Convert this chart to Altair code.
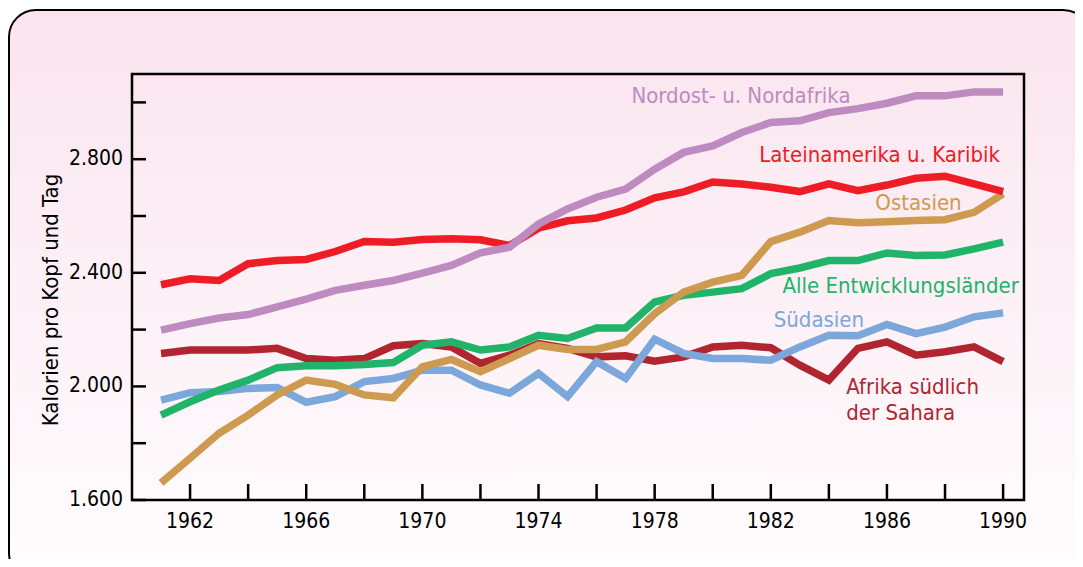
import altair as alt
import pandas as pd

years = list(range(1961, 1991))

nordost = [2198, 2221, 2241, 2253, 2280, 2307, 2338, 2356, 2373, 2399, 2426, 2470, 2490, 2572, 2625,
           2666, 2695, 2765, 2824, 2847, 2894, 2929, 2935, 2964, 2978, 2997, 3023, 3023, 3037, 3037]
latein = [2358, 2379, 2373, 2432, 2443, 2447, 2475, 2510, 2508, 2517, 2520, 2516, 2496, 2557, 2583,
          2593, 2621, 2664, 2685, 2720, 2713, 2701, 2686, 2713, 2689, 2709, 2733, 2740, 2713, 2686]
ostasien = [1660, 1747, 1835, 1899, 1970, 2022, 2007, 1970, 1960, 2069, 2095, 2052, 2098, 2145, 2130,
            2130, 2157, 2256, 2332, 2367, 2391, 2510, 2543, 2584, 2576, 2580, 2584, 2587, 2613, 2678]
alle = [1899, 1946, 1987, 2022, 2066, 2073, 2073, 2077, 2084, 2145, 2157, 2128, 2139, 2180, 2169,
        2206, 2206, 2297, 2321, 2332, 2344, 2397, 2417, 2443, 2443, 2470, 2461, 2463, 2484, 2508]
suedasien = [1952, 1978, 1982, 1993, 1996, 1944, 1964, 2017, 2028, 2057, 2057, 2005, 1976, 2046, 1964,
             2087, 2028, 2166, 2116, 2098, 2098, 2092, 2139, 2180, 2178, 2218, 2186, 2209, 2245, 2259]
afrika = [2116, 2128, 2128, 2128, 2134, 2098, 2092, 2098, 2143, 2151, 2139, 2081, 2110, 2151, 2134,
          2104, 2108, 2089, 2104, 2139, 2145, 2136, 2075, 2022, 2134, 2157, 2110, 2122, 2139, 2087]

# drawing order bottom -> top
series_names = ["afrika", "suedasien", "alle", "ostasien", "latein", "nordost"]
series_values = [afrika, suedasien, alle, ostasien, latein, nordost]
series_colors = ["#B12530", "#7BA7DA", "#20B46A", "#CD9A4F", "#EE1C25", "#BD8BBF"]

label_texts = ["Nordost- u. Nordafrika", "Lateinamerika u. Karibik", "Ostasien",
               "Alle Entwicklungsländer", "Südasien", "Afrika südlich", "der Sahara"]
label_years = [1977.2, 1981.6, 1985.6, 1982.4, 1982.1, 1984.6, 1984.6]
label_values = [3022, 2814, 2645, 2353, 2234, 1998, 1906]
label_colors = ["#BD8BBF", "#EE1C25", "#CD9A4F", "#20B46A", "#7BA7DA", "#B12530", "#B12530"]

x_tick_years = list(range(1962, 1991, 2))
y_tick_values = list(range(1600, 3001, 200))
x_label_years = [1962, 1966, 1970, 1974, 1978, 1982, 1986, 1990]
x_label_texts = ["1962", "1966", "1970", "1974", "1978", "1982", "1986", "1990"]
y_label_values = [1600, 2000, 2400, 2800]
y_label_texts = ["1.600", "2.000", "2.400", "2.800"]
y_title = "Kalorien pro Kopf und Tag"

W, H = 892, 426
FONT = "DejaVu Sans Condensed, Liberation Sans, sans-serif"

xscale = alt.Scale(domain=[1960, 1990.72], nice=False, zero=False)
yscale = alt.Scale(domain=[1600, 3100], nice=False, zero=False)


def X(field="year"):
    return alt.X(f"{field}:Q", scale=xscale, axis=None)


def Y(field="value"):
    return alt.Y(f"{field}:Q", scale=yscale, axis=None)


one = pd.DataFrame({"k": [0]})
background = alt.Chart(one).mark_rect(
    fill=alt.LinearGradient(
        gradient="linear", x1=0, y1=0, x2=0, y2=1,
        stops=[alt.GradientStop(offset=0, color="#FAE4EE"),
               alt.GradientStop(offset=1, color="#FFFDFE")]),
    stroke="black", strokeWidth=2, cornerRadius=27,
).encode(x=alt.value(-123), x2=alt.value(958), y=alt.value(-64), y2=alt.value(506))

layers = [background]
for name, vals, col in zip(series_names, series_values, series_colors):
    df = pd.DataFrame({"year": years, "value": vals})
    layers.append(alt.Chart(df).mark_line(color=col, strokeWidth=7.5, strokeCap="butt",
                                          strokeJoin="miter").encode(x=X(), y=Y()))

lab_df = pd.DataFrame({"t": label_texts, "year": label_years, "value": label_values,
                       "c": label_colors})
labels = alt.Chart(lab_df).mark_text(align="left", baseline="middle", font=FONT,
                                     fontSize=22).encode(
    x=X(), y=Y(), text="t:N", color=alt.Color("c:N", scale=None))
layers.append(labels)

# inward ticks
xt = alt.Chart(pd.DataFrame({"year": x_tick_years})).mark_rule(color="black", strokeWidth=2.5).encode(
    x=X(), y=alt.value(H), y2=alt.value(H - 16))
yt = alt.Chart(pd.DataFrame({"value": y_tick_values})).mark_rule(color="black", strokeWidth=2.5).encode(
    y=Y(), x=alt.value(0), x2=alt.value(14))
frame = alt.Chart(one).mark_rect(fillOpacity=0, stroke="black", strokeWidth=2.5).encode(
    x=alt.value(0), x2=alt.value(W), y=alt.value(0), y2=alt.value(H))

# axis labels and title
xl = alt.Chart(pd.DataFrame({"year": x_label_years, "t": x_label_texts})).mark_text(
    align="center", baseline="top", font=FONT, fontSize=21, color="black").encode(
    x=X(), y=alt.value(H + 11), text="t:N")
yl = alt.Chart(pd.DataFrame({"value": y_label_values, "t": y_label_texts})).mark_text(
    align="right", baseline="middle", font=FONT, fontSize=21, color="black").encode(
    y=Y(), x=alt.value(-9), text="t:N")
yttl = alt.Chart(pd.DataFrame({"t": [y_title]})).mark_text(
    align="center", baseline="middle", font=FONT, fontSize=22, color="black", angle=270).encode(
    x=alt.value(-81), y=alt.value(226), text="t:N")

layers += [xt, yt, frame, xl, yl, yttl]

chart = alt.layer(*layers).properties(
    width=W, height=H,
    autosize=alt.AutoSizeParams(type="none"),
    padding={"left": 124, "top": 66, "right": 51, "bottom": 59},
    background="white",
).configure_view(strokeWidth=0)

chart.save("out.html", embed_options={"renderer": "svg", "actions": False})
